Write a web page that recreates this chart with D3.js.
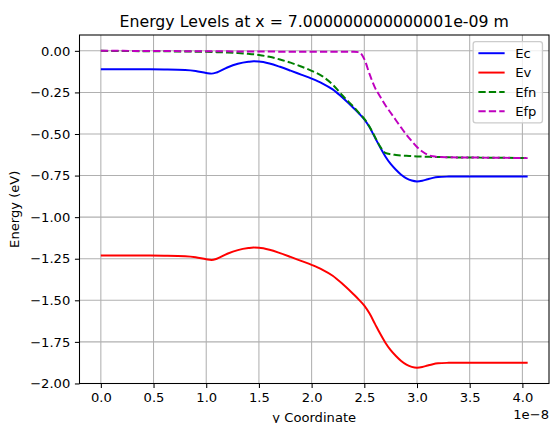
<!DOCTYPE html>
<html>
<head>
<meta charset="utf-8">
<script src="https://cdn.jsdelivr.net/npm/d3@7"></script>
<style>
  html, body { margin: 0; padding: 0; background: #fff; }
  svg { display: block; font-family: "DejaVu Sans", sans-serif; }
</style>
</head>
<body>
<svg id="chart" width="551" height="423"></svg>
<script>
// Position along the y direction (m)
const yCoord = [0, 0.2, 0.4, 0.6, 0.8, 0.9, 1.0, 1.05, 1.1, 1.2, 1.3, 1.4, 1.45, 1.5,
  1.6, 1.7, 1.8, 1.9, 2.0, 2.1, 2.2, 2.3, 2.4,
  2.45, 2.5, 2.55, 2.6, 2.65, 2.7, 2.75, 2.8, 2.85, 2.9, 2.95, 3.0, 3.05, 3.1, 3.15, 3.2,
  3.3, 3.4, 3.6, 3.8, 4.05].map(v => v * 1e-8);

// Conduction band edge (eV)
const Ec = [-0.111, -0.111, -0.111, -0.112, -0.115, -0.121, -0.133, -0.137, -0.130, -0.100, -0.078, -0.066, -0.063, -0.064,
  -0.076, -0.096, -0.119, -0.143, -0.167, -0.195, -0.232, -0.285, -0.345,
  -0.377, -0.412, -0.460, -0.520, -0.580, -0.635, -0.680, -0.715, -0.745, -0.767, -0.780, -0.785, -0.781, -0.772, -0.764, -0.759,
  -0.756, -0.755, -0.755, -0.755, -0.755];

// Valence band edge (eV)
const Ev = [-1.231, -1.231, -1.231, -1.232, -1.235, -1.241, -1.253, -1.257, -1.250, -1.220, -1.198, -1.186, -1.183, -1.184,
  -1.196, -1.216, -1.239, -1.263, -1.287, -1.315, -1.352, -1.405, -1.465,
  -1.497, -1.532, -1.580, -1.640, -1.700, -1.755, -1.800, -1.835, -1.865, -1.887, -1.900, -1.905, -1.901, -1.892, -1.884, -1.879,
  -1.876, -1.875, -1.875, -1.875, -1.875];

// Electron quasi-Fermi level (eV)
const Efn = [0.000, -0.001, -0.002, -0.003, -0.004, -0.005, -0.006, -0.007, -0.008, -0.010, -0.013, -0.018, -0.021, -0.025,
  -0.036, -0.052, -0.071, -0.094, -0.120, -0.152, -0.203, -0.273, -0.338,
  -0.374, -0.409, -0.457, -0.516, -0.575, -0.614, -0.622, -0.626, -0.629, -0.631, -0.633, -0.635, -0.636, -0.637, -0.638, -0.638,
  -0.640, -0.641, -0.642, -0.643, -0.645];

// Hole quasi-Fermi level (eV)
const Efp = [0.000, 0.000, -0.001, -0.001, -0.002, -0.002, -0.003, -0.003, -0.003, -0.003, -0.004, -0.004, -0.004, -0.004,
  -0.004, -0.005, -0.005, -0.005, -0.005, -0.005, -0.006, -0.006, -0.006,
  -0.008, -0.050, -0.140, -0.220, -0.275, -0.327, -0.372, -0.417, -0.462, -0.505, -0.543, -0.578, -0.605, -0.625, -0.634, -0.638,
  -0.640, -0.641, -0.642, -0.643, -0.645];

const seriesNames = ["Ec", "Ev", "Efn", "Efp"];
const seriesValues = [Ec, Ev, Efn, Efp];
const xTicks = [0, 0.5, 1.0, 1.5, 2.0, 2.5, 3.0, 3.5, 4.0].map(v => v * 1e-8);
const yTicks = [0.0, -0.25, -0.5, -0.75, -1.0, -1.25, -1.5, -1.75, -2.0];
const titleText = "Energy Levels at x = 7.000000000000001e-09 m";

// Styling
const colors = { Ec: "#0000ff", Ev: "#ff0000", Efn: "#008000", Efp: "#bf00bf" };
const dashed = { Ec: false, Ev: false, Efn: true, Efp: true };
const pt = 1.3125;           // px per point
const fontPx = 10 * pt;
const margin = { left: 79.5, right: 549, top: 35, bottom: 383.5 };

const svg = d3.select("#chart");

// Data limits with 5% padding on each side
const allVals = seriesValues.flat();
const [yMin, yMax] = d3.extent(allVals);
const yPad = (yMax - yMin) * 0.05;
const [xMin, xMax] = d3.extent(yCoord);
const xPad = (xMax - xMin) * 0.05;

const x = d3.scaleLinear().domain([xMin - xPad, xMax + xPad]).range([margin.left, margin.right]);
const y = d3.scaleLinear().domain([yMin - yPad, yMax + yPad]).range([margin.bottom, margin.top]);

// Grid
const grid = svg.append("g").attr("stroke", "#b0b0b0").attr("stroke-width", 0.8 * pt);
grid.selectAll("line.gx").data(xTicks).join("line")
  .attr("x1", d => x(d)).attr("x2", d => x(d))
  .attr("y1", margin.top).attr("y2", margin.bottom);
grid.selectAll("line.gy").data(yTicks).join("line")
  .attr("y1", d => y(d)).attr("y2", d => y(d))
  .attr("x1", margin.left).attr("x2", margin.right);

// Curves
const line = d3.line()
  .x((d, i) => x(yCoord[i]))
  .y(d => y(d))
  .curve(d3.curveMonotoneX);

const plot = svg.append("g");
seriesNames.forEach((name, k) => {
  plot.append("path")
    .datum(seriesValues[k])
    .attr("fill", "none")
    .attr("stroke", colors[name])
    .attr("stroke-width", 1.5 * pt)
    .attr("stroke-dasharray", dashed[name] ? `${5.55 * pt},${2.4 * pt}` : null)
    .attr("d", line);
});

// Axes
const fmtY = v => d3.format(".2f")(v).replace("-", "\u2212");
const fmtX = v => d3.format(".1f")(v / 1e-8);

const xAxis = svg.append("g")
  .attr("transform", `translate(0,${margin.bottom})`)
  .call(d3.axisBottom(x).tickValues(xTicks).tickFormat(fmtX).tickSize(3.5 * pt).tickPadding(3.5 * pt));
const yAxis = svg.append("g")
  .attr("transform", `translate(${margin.left},0)`)
  .call(d3.axisLeft(y).tickValues(yTicks).tickFormat(fmtY).tickSize(3.5 * pt).tickPadding(3.5 * pt));

[xAxis, yAxis].forEach(ax => {
  ax.select(".domain").remove();
  ax.selectAll(".tick line").attr("stroke", "#000").attr("stroke-width", 0.8 * pt);
  ax.selectAll(".tick text")
    .attr("fill", "#000")
    .style("font-family", "DejaVu Sans")
    .style("font-size", fontPx + "px");
});

// Frame
svg.append("rect")
  .attr("x", margin.left).attr("y", margin.top)
  .attr("width", margin.right - margin.left)
  .attr("height", margin.bottom - margin.top)
  .attr("fill", "none").attr("stroke", "#000").attr("stroke-width", 0.8 * pt);

// Title and labels
svg.append("text")
  .attr("x", (margin.left + margin.right) / 2).attr("y", 27)
  .attr("text-anchor", "middle")
  .style("font-size", 12 * pt + "px")
  .text(titleText);

svg.append("text")
  .attr("x", (margin.left + margin.right) / 2).attr("y", 421.5)
  .attr("text-anchor", "middle")
  .style("font-size", fontPx + "px")
  .text("y Coordinate");

svg.append("text")
  .attr("transform", `translate(18.5,${(margin.top + margin.bottom) / 2}) rotate(-90)`)
  .attr("text-anchor", "middle")
  .style("font-size", fontPx + "px")
  .text("Energy (eV)");

svg.append("text")
  .attr("x", margin.right).attr("y", 419)
  .attr("text-anchor", "end")
  .style("font-size", fontPx + "px")
  .text("1e\u22128");

// Legend
const pad = 0.4 * fontPx, rowH = 12.8, gap = 0.5 * fontPx;
const handleLen = 2 * fontPx, textPad = 0.8 * fontPx;
const legW = 69.3;
const legH = pad * 2 + rowH * seriesNames.length + gap * (seriesNames.length - 1);
const legX = margin.right - 0.5 * fontPx - legW;
const legY = margin.top + 0.5 * fontPx;
const legend = svg.append("g").attr("transform", `translate(${legX},${legY})`);
legend.append("rect")
  .attr("width", legW).attr("height", legH)
  .attr("rx", 0.2 * fontPx)
  .attr("fill", "#fff").attr("fill-opacity", 0.8)
  .attr("stroke", "#cccccc").attr("stroke-width", pt);
seriesNames.forEach((name, i) => {
  const cy = pad + i * (rowH + gap) + rowH / 2;
  legend.append("line")
    .attr("x1", pad).attr("x2", pad + handleLen)
    .attr("y1", cy).attr("y2", cy)
    .attr("stroke", colors[name])
    .attr("stroke-width", 1.5 * pt)
    .attr("stroke-dasharray", dashed[name] ? `${5.55 * pt},${2.4 * pt}` : null);
  legend.append("text")
    .attr("x", pad + handleLen + textPad).attr("y", cy + 4.6)
    .style("font-size", fontPx + "px")
    .text(name);
});
</script>
</body>
</html>
